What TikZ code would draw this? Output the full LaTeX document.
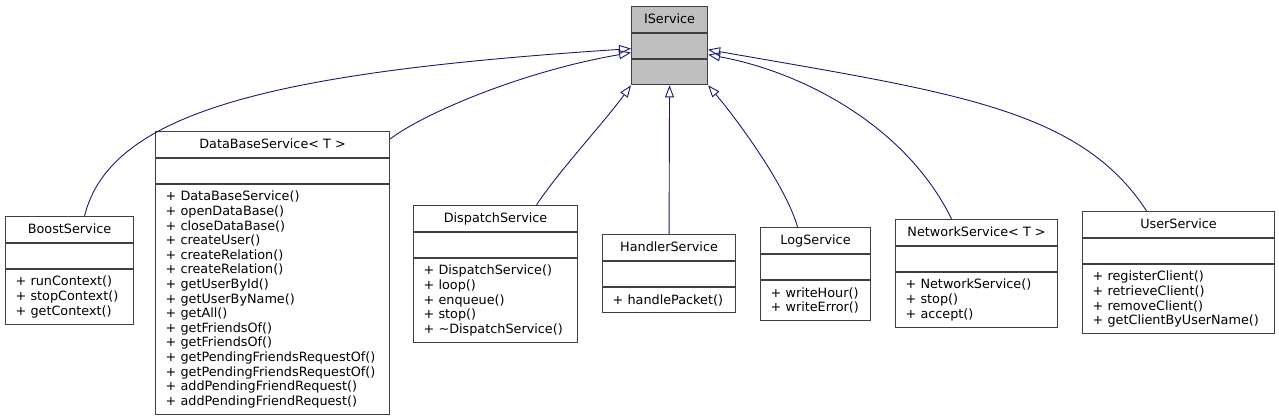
\documentclass[tikz,border=0pt]{standalone}
\usepackage{fontspec}
\setmainfont{DejaVu Sans}
\usetikzlibrary{arrows.meta,positioning}
\definecolor{edgenavy}{HTML}{191970}
\definecolor{framegray}{HTML}{404040}
\definecolor{ifacegray}{HTML}{BFBFBF}

\begin{document}
\begin{tikzpicture}[
  x=1pt, y=-1pt,
  every node/.style={font=\fontsize{12.8}{14.6}\selectfont},
  head/.style={draw=framegray,line width=1.1pt,minimum height=26pt,inner sep=0pt,
    text height=10.5pt,text depth=1.6pt,anchor=north west},
  attrs/.style={draw=framegray,line width=1.1pt,minimum height=25pt,inner sep=0pt},
  opers/.style={draw=framegray,line width=1.1pt,inner xsep=10pt,inner ysep=0pt,align=left},
  isa/.style={edgenavy,line width=0.9pt,-{Triangle[open,length=12pt,width=9pt]}}
]
  \useasboundingbox (0,0) rectangle (1279,419);

  % base class
  \node[head,fill=ifacegray,minimum width=76pt] (iserv) at (631,6) {IService};
  \node[attrs,fill=ifacegray,minimum width=76pt,below=0pt of iserv] (iserv-attr) {};
  \node[attrs,fill=ifacegray,minimum width=76pt,below=0pt of iserv-attr] (iserv-ops) {};

  % derived classes
  \node[head,minimum width=128pt] (boost) at (5,216) {BoostService};
  \node[attrs,minimum width=128pt,below=0pt of boost] (boost-attr) {};
  \node[opers,text width=108pt,minimum height=54.4pt,below=0pt of boost-attr] (boost-ops)
    {+~runContext()\\+~stopContext()\\+~getContext()};

  \node[head,minimum width=234pt] (dbase) at (155,131) {DataBaseService< T >};
  \node[attrs,minimum width=234pt,below=0pt of dbase] (dbase-attr) {};
  \node[opers,text width=214pt,minimum height=229.6pt,below=0pt of dbase-attr] (dbase-ops)
    {+~DataBaseService()\\+~openDataBase()\\+~closeDataBase()\\+~createUser()\\
     +~createRelation()\\+~createRelation()\\+~getUserById()\\+~getUserByName()\\
     +~getAll()\\+~getFriendsOf()\\+~getFriendsOf()\\+~getPendingFriendsRequestOf()\\
     +~getPendingFriendsRequestOf()\\+~addPendingFriendRequest()\\+~addPendingFriendRequest()};

  \node[head,minimum width=164pt] (dispatch) at (413,205) {DispatchService};
  \node[attrs,minimum width=164pt,below=0pt of dispatch] (dispatch-attr) {};
  \node[opers,text width=144pt,minimum height=83.6pt,below=0pt of dispatch-attr] (dispatch-ops)
    {+~DispatchService()\\+~loop()\\+~enqueue()\\+~stop()\\+~\textasciitilde DispatchService()};

  \node[head,minimum width=133pt] (handler) at (602,234) {HandlerService};
  \node[attrs,minimum width=133pt,below=0pt of handler] (handler-attr) {};
  \node[opers,text width=113pt,minimum height=25.2pt,below=0pt of handler-attr] (handler-ops)
    {+~handlePacket()};

  \node[head,minimum width=110pt] (log) at (760,227) {LogService};
  \node[attrs,minimum width=110pt,below=0pt of log] (log-attr) {};
  \node[opers,text width=90pt,minimum height=39.8pt,below=0pt of log-attr] (log-ops)
    {+~writeHour()\\+~writeError()};

  \node[head,minimum width=162pt] (network) at (895,219) {NetworkService< T >};
  \node[attrs,minimum width=162pt,below=0pt of network] (network-attr) {};
  \node[opers,text width=142pt,minimum height=54.4pt,below=0pt of network-attr] (network-ops)
    {+~NetworkService()\\+~stop()\\+~accept()};

  \node[head,minimum width=192pt] (user) at (1082,211) {UserService};
  \node[attrs,minimum width=192pt,below=0pt of user] (user-attr) {};
  \node[opers,text width=172pt,minimum height=69pt,below=0pt of user-attr] (user-ops)
    {+~registerClient()\\+~retrieveClient()\\+~removeClient()\\+~getClientByUserName()};

  % inheritance
  \draw[isa] ([xshift=15pt]boost.north) .. controls +(26,-106) and +(-351,23) .. ([yshift=-2.5pt]iserv-attr.west);
  \draw[isa] ([yshift=-8pt]dbase.north east) .. controls +(31,-24) and +(-111,19) .. ([yshift=-6.5pt]iserv-attr.west);
  \draw[isa] ([xshift=41pt]dispatch.north) .. controls +(19,-30) and +(-26,36) .. (iserv-ops.south west);
  \draw[isa] (handler.north) -- (iserv-ops.south);
  \draw[isa] ([xshift=-18pt]log.north) .. controls +(-12,-42) and +(28,33) .. (iserv-ops.south east);
  \draw[isa] ([xshift=-25pt]network.north) .. controls +(-46,-94) and +(93,17) .. ([yshift=-8.5pt]iserv-attr.east);
  \draw[isa] ([xshift=-32pt]user.north) .. controls +(-66,-102) and +(246,43) .. ([yshift=-3.5pt]iserv-attr.east);
\end{tikzpicture}
\end{document}
